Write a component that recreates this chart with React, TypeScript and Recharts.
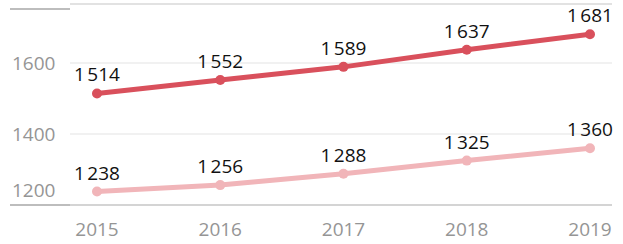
import React from 'react';
import { LineChart, Line, XAxis, YAxis, CartesianGrid, ReferenceLine, LabelList } from 'recharts';

const years = ['2015', '2016', '2017', '2018', '2019'];
const upperValues = [1514, 1552, 1589, 1637, 1681];
const lowerValues = [1238, 1256, 1288, 1325, 1360];
const yTicks = [1200, 1400, 1600, 1766];

const data = years.map((year, i) => ({ year, upper: upperValues[i], lower: lowerValues[i] }));

// thousands with a narrow space, like "1 514"
const fmt = (v: number) => {
  const s = String(v);
  return s.slice(0, s.length - 3) + '\u202F' + s.slice(-3);
};

const YTick = (props: any) => {
  const { y, payload } = props;
  const v = payload.value;
  const isEdge = v === 1200 || v === 1766;
  return (
    <g>
      {isEdge && <line x1={10} x2={70} y1={y} y2={y} stroke="#bdbdbd" strokeWidth={2} />}
      {v !== 1766 && (
        <text x={12} y={v === 1200 ? y - 15 : y} dy={7} textAnchor="start" fill="#959595" fontSize={19}>
          {v}
        </text>
      )}
    </g>
  );
};

const renderLabel = (props: any) => {
  const { x, y, value } = props;
  return (
    <text x={x} y={y - 12} textAnchor="middle" fill="#111" fontSize={19}>
      {fmt(value)}
    </text>
  );
};

export default function App() {
  return (
    <div style={{ position: 'absolute', left: 0, top: 0, width: 623, height: 244, background: '#fff', fontFamily: '"Open Sans", sans-serif' }}>
      <LineChart width={623} height={244} data={data} margin={{ top: 4, right: 11, bottom: 0, left: 0 }}>
        <CartesianGrid vertical={false} stroke="#ececec" strokeWidth={1.5} />
        <XAxis
          dataKey="year"
          axisLine={false}
          tickLine={false}
          height={39}
          padding={{ left: 27, right: 22 }}
          tick={{ fill: '#959595', fontSize: 19, dy: 10 }}
        />
        <YAxis
          width={70}
          domain={[1200, 1766]}
          ticks={yTicks}
          axisLine={false}
          tickLine={false}
          tick={<YTick />}
        />
        <ReferenceLine y={1766} stroke="#e2e2e2" strokeWidth={2} />
        <ReferenceLine y={1200} stroke="#d4d4d4" strokeWidth={2} />
        <Line
          dataKey="upper"
          stroke="#d9505c"
          strokeWidth={5}
          dot={{ r: 5, fill: '#d9505c', stroke: '#d9505c', strokeWidth: 0 }}
          isAnimationActive={false}
        >
          <LabelList dataKey="upper" content={renderLabel} />
        </Line>
        <Line
          dataKey="lower"
          stroke="#f1b5b9"
          strokeWidth={5}
          dot={{ r: 5, fill: '#f1b5b9', stroke: '#f1b5b9', strokeWidth: 0 }}
          isAnimationActive={false}
        >
          <LabelList dataKey="lower" content={renderLabel} />
        </Line>
      </LineChart>
    </div>
  );
}
